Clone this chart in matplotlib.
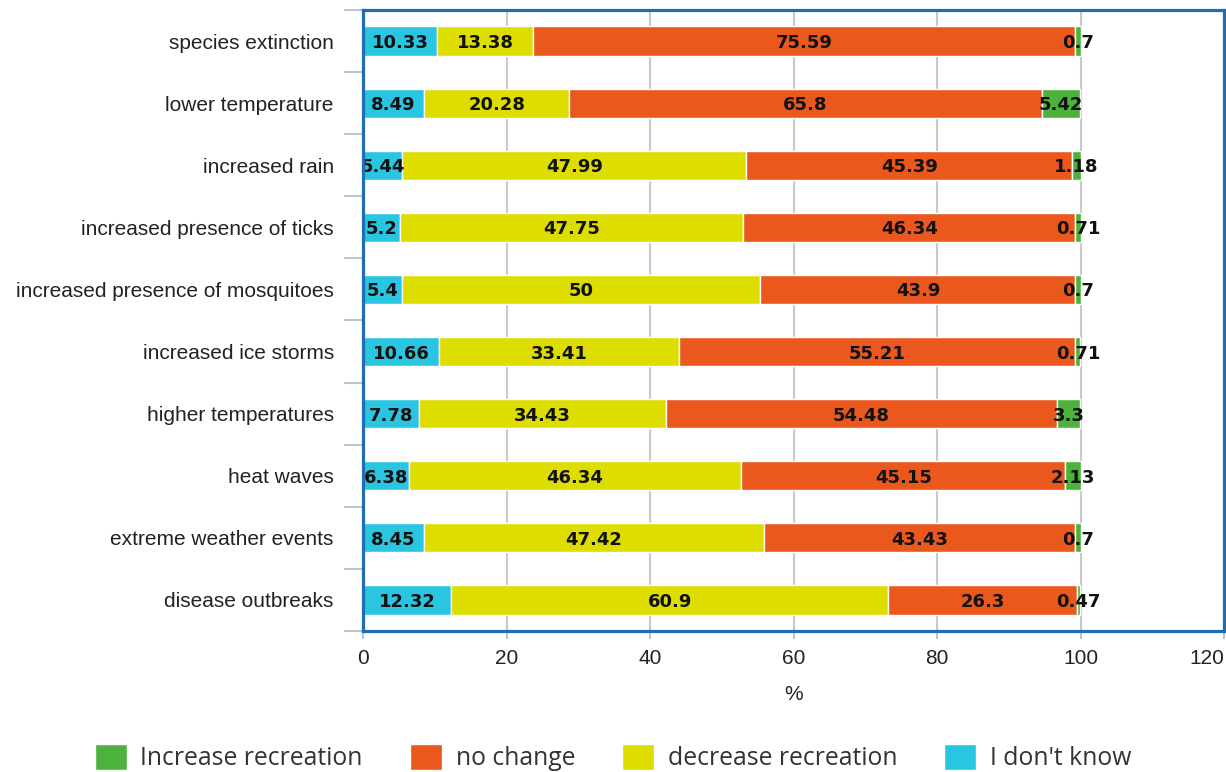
import matplotlib
matplotlib.use("Agg")
import matplotlib.pyplot as plt
import numpy as np

categories = [
    "species extinction",
    "lower temperature",
    "increased rain",
    "increased presence of ticks",
    "increased presence of mosquitoes",
    "increased ice storms",
    "higher temperatures",
    "heat waves",
    "extreme weather events",
    "disease outbreaks",
]
dont_know = [10.33, 8.49, 5.44, 5.2, 5.4, 10.66, 7.78, 6.38, 8.45, 12.32]
decrease = [13.38, 20.28, 47.99, 47.75, 50, 33.41, 34.43, 46.34, 47.42, 60.9]
no_change = [75.59, 65.8, 45.39, 46.34, 43.9, 55.21, 54.48, 45.15, 43.43, 26.3]
increase = [0.7, 5.42, 1.18, 0.71, 0.7, 0.71, 3.3, 2.13, 0.7, 0.47]
x_ticks = [0, 20, 40, 60, 80, 100, 120]

series = [
    ("I don't know", dont_know, "#2ac5e1"),
    ("decrease recreation", decrease, "#dddd00"),
    ("no change", no_change, "#ea581e"),
    ("Increase recreation", increase, "#4db23c"),
]

fig = plt.figure(figsize=(12.26, 7.72), dpi=100)
ax = fig.add_axes([363 / 1226, 1 - 631 / 772, (1224 - 363) / 1226, (631 - 10) / 772])

y = np.arange(len(categories))
left = np.zeros(len(categories))
handles = {}
for name, vals, color in series:
    vals = np.array(vals, dtype=float)
    bars = ax.barh(y, vals, left=left, height=0.47, color=color,
                   edgecolor="white", linewidth=1.0, zorder=3, label=name)
    handles[name] = bars
    for yi, l, v in zip(y, left, vals):
        ax.text(l + v / 2, yi, f"{v:g}", ha="center", va="center_baseline",
                fontsize=13, fontweight="bold", family="DejaVu Sans",
                color="#111111", zorder=5)
    left += vals

ax.set_xlim(0, 120)
ax.set_ylim(len(categories) - 0.5, -0.5)
ax.set_xticks(x_ticks)
ax.set_xticklabels([str(t) for t in x_ticks], fontsize=15, family="Liberation Sans",
                   color="#222222")
# keep the last tick label inside the figure
ax.get_xticklabels()[-1].set_horizontalalignment("right")
ax.set_yticks(y)
ax.set_yticklabels(categories, fontsize=15, family="Liberation Sans", color="#222222")
ax.set_yticks(np.arange(-0.5, len(categories) + 0.5, 1.0), minor=True)
ax.tick_params(axis="y", which="major", length=0, pad=21)
ax.tick_params(axis="y", which="minor", length=14, width=1.5, color="#b9c5d6")
ax.tick_params(axis="x", which="major", length=6, width=1.5, color="#b9c5d6", pad=7)

ax.grid(axis="x", color="#c9c9c9", linewidth=1.5, zorder=0)
ax.set_axisbelow(True)
for sp in ax.spines.values():
    sp.set_color("#1f6db3")
    sp.set_linewidth(2.3)
    sp.set_zorder(6)

ax.set_xlabel("%", fontsize=15, family="Liberation Sans", color="#222222", labelpad=12)

order = ["Increase recreation", "no change", "decrease recreation", "I don't know"]
fig.legend([handles[k] for k in order], order, loc="lower center",
           bbox_to_anchor=(0.5, -0.028), ncol=4, frameon=False,
           prop={"family": "Open Sans", "size": 17.8},
           handlelength=1.3, handleheight=1.25, handletextpad=0.55,
           columnspacing=1.9, labelcolor="#333333")

fig.savefig("out.png", dpi=100, facecolor="white")
